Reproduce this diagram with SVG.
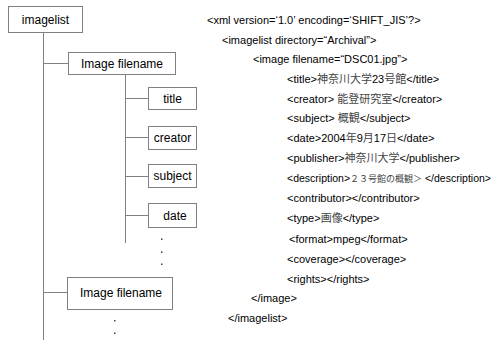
<svg xmlns="http://www.w3.org/2000/svg" width="503" height="340" viewBox="0 0 503 340">
  <style>
    .box { fill: #ffffff; stroke: #808080; stroke-width: 1; }
    .lbl { font-family: "Liberation Sans", Arial, sans-serif; font-size: 12px; fill: #000; text-anchor: middle; }
    .wire { stroke: #808080; stroke-width: 1; fill: none; }
    .dot { fill: #404040; }
    .xml { font-family: "Liberation Sans", Arial, "Noto Sans CJK JP", sans-serif; font-size: 11px; fill: #000; }
    .jp { font-family: "Noto Sans CJK JP", sans-serif; fill: #444; }
  </style>
  <rect width="503" height="340" fill="#ffffff"/>

  <!-- tree connectors -->
  <g id="connectors">
    <path class="wire" d="M43.5 32.5 V340"/>
    <path class="wire" d="M43 63.5 H68.5"/>
    <path class="wire" d="M43 292.5 H67.5"/>
    <path class="wire" d="M125.5 74.5 V243"/>
    <path class="wire" d="M125 98.5 H148.5"/>
    <path class="wire" d="M125 137.5 H148.5"/>
    <path class="wire" d="M125 176.5 H148.5"/>
    <path class="wire" d="M125 215.5 H148.5"/>
  </g>

  <!-- ellipsis dots -->
  <g id="dots">
    <rect class="dot" x="161" y="238.5" width="1.5" height="1.5"/>
    <rect class="dot" x="161" y="251.5" width="1.5" height="1.5"/>
    <rect class="dot" x="161" y="263.5" width="1.5" height="1.5"/>
    <rect class="dot" x="114" y="320" width="1.5" height="1.5"/>
    <rect class="dot" x="114" y="332.5" width="1.5" height="1.5"/>
  </g>

  <g id="node-imagelist">
    <rect class="box" x="8.5" y="6.5" width="74" height="26"/>
    <text class="lbl" x="45.5" y="23.5">imagelist</text>
  </g>
  <g id="node-image-1">
    <rect class="box" x="68.5" y="52.5" width="107" height="22"/>
    <text class="lbl" x="122" y="68">Image filename</text>
  </g>
  <g id="node-title">
    <rect class="box" x="148.5" y="87.5" width="48" height="22"/>
    <text class="lbl" x="172.5" y="102.5">title</text>
  </g>
  <g id="node-creator">
    <rect class="box" x="148.5" y="126.5" width="48" height="23"/>
    <text class="lbl" x="172.5" y="142">creator</text>
  </g>
  <g id="node-subject">
    <rect class="box" x="148.5" y="164.5" width="48" height="23"/>
    <text class="lbl" x="172.5" y="180">subject</text>
  </g>
  <g id="node-date">
    <rect class="box" x="148.5" y="203.5" width="48" height="24"/>
    <text class="lbl" x="175" y="219.5">date</text>
  </g>
  <g id="node-image-2">
    <rect class="box" x="67.5" y="277.5" width="105" height="32"/>
    <text class="lbl" x="121" y="297">Image filename</text>
  </g>

  <!-- XML listing -->
  <g id="xml-listing" class="xml">
    <text x="207" y="24">&lt;xml version=‘1.0’ encoding=‘SHIFT_JIS’?&gt;</text>
    <text x="222" y="44">&lt;imagelist directory=“Archival”&gt;</text>
    <text x="253" y="63">&lt;image filename=“DSC01.jpg”&gt;</text>
    <text x="287" y="83">&lt;title&gt;<tspan class="jp">神奈川大学</tspan>23<tspan class="jp">号館</tspan>&lt;/title&gt;</text>
    <text x="287" y="103">&lt;creator&gt; <tspan class="jp">能登研究室</tspan>&lt;/creator&gt;</text>
    <text x="287" y="122">&lt;subject&gt; <tspan class="jp">概観</tspan>&lt;/subject&gt;</text>
    <text x="287" y="142">&lt;date&gt;2004<tspan class="jp">年</tspan>9<tspan class="jp">月</tspan>17<tspan class="jp">日</tspan>&lt;/date&gt;</text>
    <text x="287" y="162">&lt;publisher&gt;<tspan class="jp">神奈川大学</tspan>&lt;/publisher&gt;</text>
    <text x="287" y="182" font-size="10.5">&lt;description&gt;<tspan class="jp" font-size="9">２３号館の概観＞</tspan> &lt;/description&gt;</text>
    <text x="287" y="202">&lt;contributor&gt;&lt;/contributor&gt;</text>
    <text x="287" y="222">&lt;type&gt;<tspan class="jp">画像</tspan>&lt;/type&gt;</text>
    <text x="289" y="243">&lt;format&gt;mpeg&lt;/format&gt;</text>
    <text x="287" y="263">&lt;coverage&gt;&lt;/coverage&gt;</text>
    <text x="287" y="283">&lt;rights&gt;&lt;/rights&gt;</text>
    <text x="251" y="302">&lt;/image&gt;</text>
    <text x="228" y="322">&lt;/imagelist&gt;</text>
  </g>
</svg>
